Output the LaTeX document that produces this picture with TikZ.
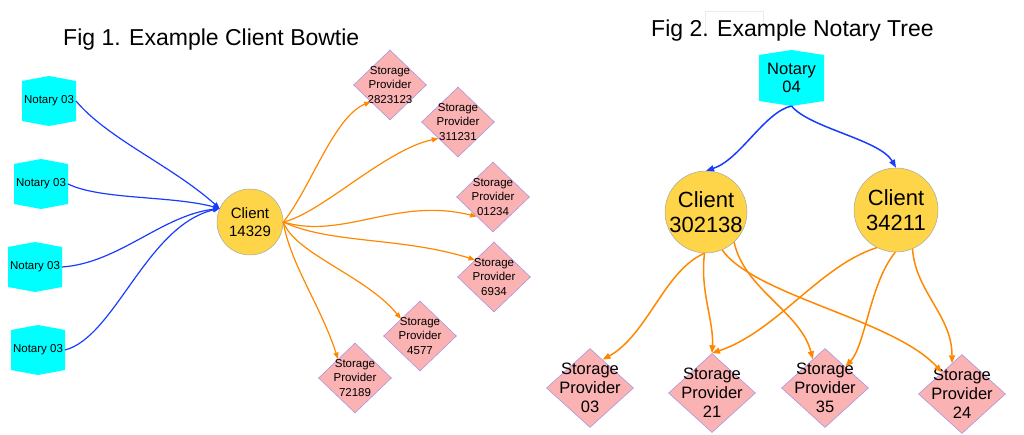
\documentclass[tikz,border=0pt]{standalone}
\usepackage{fontspec}
\setmainfont{Liberation Sans}
\usetikzlibrary{arrows.meta,shapes.geometric,calc}
\definecolor{ncyan}{RGB}{0,255,255}
\definecolor{cgold}{RGB}{254,213,72}
\definecolor{spink}{RGB}{250,178,178}
\definecolor{slav}{RGB}{170,150,230}
\definecolor{eblue}{RGB}{25,60,255}
\definecolor{eorange}{RGB}{255,136,0}
\newcommand\notaryshape[2]{\fill[ncyan] (#1.north) -- ($(#1.north east)+(0,#2)$) -- ($(#1.south east)+(0,-#2)$) -- (#1.south) -- ($(#1.south west)+(0,-#2)$) -- ($(#1.north west)+(0,#2)$) -- cycle;}
\begin{document}
\begin{tikzpicture}[x=1pt,y=-1pt,
  nbox/.style={rectangle,inner sep=0pt,outer sep=0pt},
  ntext/.style={inner sep=0pt,align=center,font=\fontsize{11.5}{14}\selectfont},
  ntextbig/.style={inner sep=0pt,align=center,font=\fontsize{16.5}{18.5}\selectfont},
  client/.style={circle,fill=cgold,draw=gray!70,line width=0.5pt,inner sep=0pt},
  ctext/.style={inner sep=0pt,align=center,font=\fontsize{15}{18}\selectfont},
  ctextbig/.style={inner sep=0pt,align=center,font=\fontsize{22}{25}\selectfont},
  spd/.style={diamond,fill=spink,draw=slav,line width=0.6pt,inner sep=0pt},
  sptext/.style={inner sep=0pt,align=center,font=\fontsize{11.5}{14.5}\selectfont},
  sptextbig/.style={inner sep=0pt,align=center,font=\fontsize{16.5}{19}\selectfont},
  barrow/.style={draw=eblue,line width=1.2pt,-{Triangle[length=6.5pt,width=5pt]}},
  oarrow/.style={draw=eorange,line width=1.2pt,-{Triangle[length=6.5pt,width=5pt]}},
  barrowbig/.style={draw=eblue,line width=1.5pt,-{Triangle[length=8pt,width=6pt]}},
  oarrowbig/.style={draw=eorange,line width=1.5pt,-{Triangle[length=8pt,width=6pt]}},
  title/.style={inner sep=0pt,anchor=base west,font=\fontsize{23}{26}\selectfont}
]
\useasboundingbox (0,0) rectangle (1024,435);

% titles
\draw[gray!15,line width=0.5pt] (705,38) -- (705,11) -- (763,11) -- (763,22);
\node[title] (t1) at (63,46) {Fig 1. Example Client Bowtie};
\node[title] (t2) at (651,37) {Fig 2. Example Notary Tree};

% ---------- Fig 1 ----------
\node[nbox,minimum width=54,minimum height=50] (n1) at (49,101) {};
\notaryshape{n1}{5}
\node[ntext] (n1t) at (n1) {Notary 03};
\node[nbox,minimum width=54,minimum height=50] (n2) at (41,184) {};
\notaryshape{n2}{5}
\node[ntext] (n2t) at (n2) {Notary 03};
\node[nbox,minimum width=54,minimum height=50] (n3) at (35,267) {};
\notaryshape{n3}{5}
\node[ntext] (n3t) at (n3) {Notary 03};
\node[nbox,minimum width=54,minimum height=50] (n4) at (38,350) {};
\notaryshape{n4}{5}
\node[ntext] (n4t) at (n4) {Notary 03};

\node[client,minimum size=66] (c1) at (250,222) {};
\node[ctext] (c1t) at (c1) {Client\\14329};

\node[spd,minimum width=73,minimum height=70] (s1) at (390,85) {};
\node[sptext] (s1t) at (s1) {Storage\\Provider\\2823123};
\node[spd,minimum width=73,minimum height=70] (s2) at (458,122) {};
\node[sptext] (s2t) at (s2) {Storage\\Provider\\311231};
\node[spd,minimum width=73,minimum height=70] (s3) at (493,197) {};
\node[sptext] (s3t) at (s3) {Storage\\Provider\\01234};
\node[spd,minimum width=73,minimum height=70] (s4) at (494,277) {};
\node[sptext] (s4t) at (s4) {Storage\\Provider\\6934};
\node[spd,minimum width=73,minimum height=70] (s5) at (420,336) {};
\node[sptext] (s5t) at (s5) {Storage\\Provider\\4577};
\node[spd,minimum width=73,minimum height=70] (s6) at (355,378) {};
\node[sptext] (s6t) at (s6) {Storage\\Provider\\72189};

\draw[barrow] (n1.east) .. controls +(32,38) and +(-48,-43) .. (c1.156);
\draw[barrow] (n2.east) .. controls +(33,16) and +(-48,-13) .. (c1.156);
\draw[barrow] (n3.east) .. controls +(57,-4) and +(-58,7) .. (c1.156);
\draw[barrow] (n4.east) .. controls +(50,-13) and +(-73,17) .. (c1.156);

\draw[oarrow] (c1.east) .. controls +(27,-33) and +(-37,15) .. (s1.221);
\draw[oarrow] (c1.east) .. controls +(37,-8) and +(-53,11) .. (s2.220);
\draw[oarrow] (c1.east) .. controls +(60,18) and +(-80,-20) .. (s3.230);
\draw[oarrow] (c1.east) .. controls +(47,22) and +(-73,-23) .. (s4.138);
\draw[oarrow] (c1.east) .. controls +(12,32) and +(-35,-43) .. (s5.138);
\draw[oarrow] (c1.east) .. controls +(7,42) and +(-17,-53) .. (s6.132);

% ---------- Fig 2 ----------
\node[nbox,minimum width=65,minimum height=56] (n5) at (791.5,78) {};
\notaryshape{n5}{5}
\node[ntextbig] (n5t) at (n5) {Notary\\04};

\node[client,minimum size=82] (c2) at (706,212) {};
\node[ctextbig] (c2t) at (c2) {Client\\302138};
\node[client,minimum size=84] (c3) at (896,210) {};
\node[ctextbig] (c3t) at (c3) {Client\\34211};

\node[spd,minimum width=87,minimum height=79] (r1) at (590,388) {};
\node[sptextbig] (r1t) at (r1) {Storage\\Provider\\03};
\node[spd,minimum width=87,minimum height=79] (r2) at (712,393) {};
\node[sptextbig] (r2t) at (r2) {Storage\\Provider\\21};
\node[spd,minimum width=87,minimum height=79] (r3) at (825,388) {};
\node[sptextbig] (r3t) at (r3) {Storage\\Provider\\35};
\node[spd,minimum width=87,minimum height=79] (r4) at (962,394) {};
\node[sptextbig] (r4t) at (r4) {Storage\\Provider\\24};

\draw[barrowbig] (n5.south) .. controls +(-27,6) and +(34,-11) .. (c2.north);
\draw[barrowbig] (n5.south) .. controls +(18,22) and +(-16,-28) .. (c3.north);

\draw[oarrowbig] (c2.268) .. controls +(-40,17) and +(45,-25) .. (r1.66);
\draw[oarrowbig] (c2.268) .. controls +(-5,37) and +(2,-32) .. (r2.north);
\draw[oarrowbig] (c2.313) .. controls +(10,47) and +(-12,-47) .. (r3.113);
\draw[oarrowbig] (c2.293) .. controls +(33,46) and +(-48,-53) .. (r4.133);
\draw[oarrowbig] (c3.243) .. controls +(-57,18) and +(65,-22) .. (r2.north);
\draw[oarrowbig] (c3.269) .. controls +(-25,30) and +(20,-22) .. (r3.46);
\draw[oarrowbig] (c3.293) .. controls +(3,43) and +(0,-48) .. (r4.108);
\end{tikzpicture}
\end{document}
